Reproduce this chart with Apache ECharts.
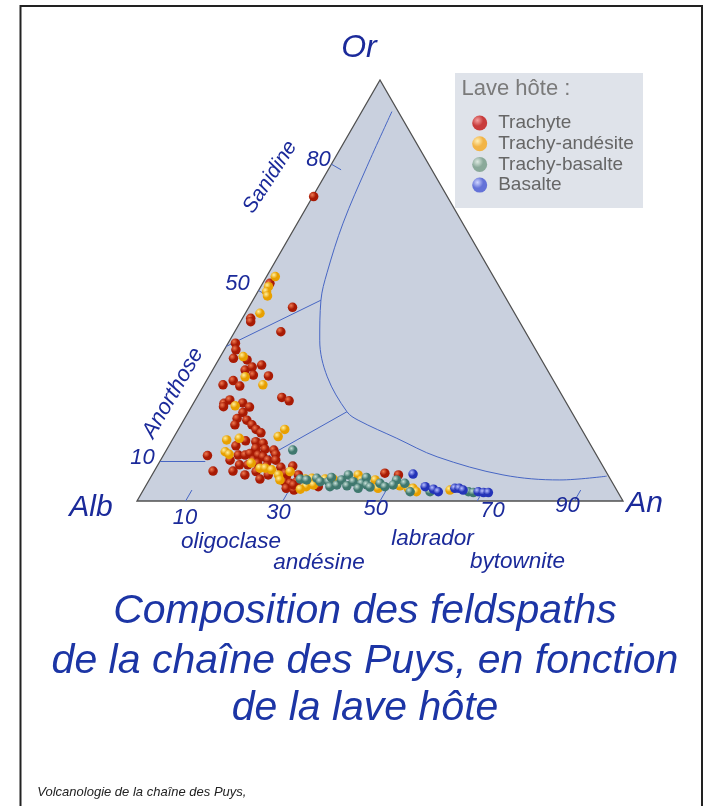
<!DOCTYPE html>
<html>
<head>
<meta charset="utf-8">
<script src="https://cdn.jsdelivr.net/npm/echarts/dist/echarts.min.js"></script>
<style>
html,body{margin:0;padding:0;background:#ffffff;}
#chart{width:712px;height:806px;}
</style>
</head>
<body>
<div id="chart"></div>
<script>
// Ternary compositions: [An %, Or %]  (Ab % = 100 - An - Or)
const trachyte = [
  [0.2,72.3],
  [1.5,51.7],[9.0,46.0],[1.7,43.4],[2.1,42.6],[9.5,40.2],[1.5,37.5],[2.4,35.9],[2.9,33.9],[5.9,33.5],
  [9.5,32.3],[6.7,31.1],[7.8,31.8],[9.0,29.9],[12.2,29.7],[5.5,28.6],[3.9,27.6],[7.5,27.3],
  [17.5,24.6],[19.4,23.8],[6.3,23.2],[7.1,24.0],[6.6,22.4],[10.1,23.3],[12.0,22.3],[10.8,19.6],
  [11.3,21.0],[13.0,19.2],[11.1,18.1],[14.6,18.1],[16.0,17.0],[17.4,16.2],
  [15.2,14.3],[17.4,14.1],[19.1,13.7],[13.8,13.1],[18.2,12.5],[20.2,12.3],[22.1,12.1],[23.0,11.1],
  [9.1,10.8],[15.4,10.9],[16.8,10.9],[17.6,11.3],[19.1,9.7],[19.5,10.9],[20.7,10.5],[22.1,9.7],
  [23.7,9.7],[14.3,9.7],[16.8,8.6],[18.5,8.6],[20.3,9.0],[22.5,8.3],[12.1,7.1],[16.2,7.1],
  [19.1,6.2],[21.0,7.0],[25.6,8.0],[27.9,8.3],[22.7,5.2],[23.9,6.2],[27.8,5.9],[30.1,6.2],
  [28.0,4.6],[29.4,4.2],[30.6,4.6],[29.2,3.0],[31.0,2.6],[30.3,3.8],[35.6,3.4],[27.2,6.6],
  [47.7,6.6],[50.7,6.2]
];
const trachyAndesite = [
  [1.8,53.3],[1.6,50.9],[1.8,49.7],[2.5,48.7],[3.0,44.6],[4.7,34.3],[7.5,29.5],[12.1,27.6],
  [8.9,22.6],[21.9,17.0],[21.4,15.3],[11.2,14.5],[13.6,14.9],[12.3,11.7],[13.4,11.1],[19.0,9.0],
  [21.4,7.8],[22.5,7.8],[24.0,7.4],[26.0,6.2],[28.0,7.0],[26.9,5.0],[32.0,5.2],[33.1,3.4],
  [32.2,2.8],[33.3,5.4],[34.4,3.8],[36.1,5.2],[37.8,5.2],[42.4,6.2],[43.7,5.0],[46.5,5.0],
  [48.1,3.0],[52.3,3.6],[54.3,3.0],[55.3,3.0],[56.4,2.2],[63.1,2.6]
];
const trachyBasalte = [
  [26.0,12.1],[31.0,5.2],[32.4,5.0],[34.3,5.4],[35.4,4.6],[37.1,4.6],[37.2,5.6],[38.0,3.4],
  [39.2,3.8],[39.6,5.0],[40.4,6.2],[41.4,3.6],[42.2,4.6],[44.1,4.2],[44.4,5.6],[45.4,3.8],
  [44.0,3.0],[46.3,3.3],[47.9,4.2],[49.3,3.4],[50.9,5.0],[50.8,3.8],[53.0,4.2],[55.1,2.2],
  [59.2,2.2],[67.1,2.2],[68.2,2.0]
];
const basalte = [
  [53.6,6.4],[57.6,3.4],[59.6,2.8],[60.9,2.2],[63.9,3.0],[64.8,3.0],[65.8,2.6],[69.1,2.2],
  [70.3,2.0],[71.3,2.0]
];
// Field boundaries [An %, Or %]
const solvus = [
  [6.2,92.5],[7.6,79.4],[9.4,66.0],[12.0,54.2],[14.0,47.7],[18.5,38.2],[24.4,29.5],
  [32.6,21.2],[35.9,19.2],[46.0,14.9],[56.5,10.5],[72.2,6.2],[84.5,5.0],[93.7,5.9]
];
const sanidineAnorthose = [[0,36.7],[14.0,47.7]];
const anorthosePlagioclase = [[0,9.5],[9.3,9.5]];
const plagioclaseSolvus = [[21.0,10.0],[32.6,21.2]];
// Tick values
const anTicks = [10,30,50,70,90];
const orTicks = [50,80];
const triangle = [[0,0],[100,0],[0,100]];
const seriesNames = ['Trachyte','Trachy-andésite','Trachy-basalte','Basalte'];

const H = Math.sqrt(3)/2;
function toXY(p){ return [p[0] + p[1]/2, p[1]*H]; }

function sphere(hi, lo){
  return {type:'radial', x:0.35, y:0.32, r:0.7,
    colorStops:[{offset:0,color:hi},{offset:0.55,color:lo},{offset:1,color:lo}]};
}
const dotColors = [
  sphere('#f07a50','#a81a04'),
  sphere('#fff0a0','#e8a000'),
  sphere('#c8e0d8','#3f786e'),
  sphere('#b8c0ff','#2433b8')
];
const legendColors = [
  sphere('#f4a0a0','#c83c3c'),
  sphere('#fff0b8','#f2b446'),
  sphere('#dde9e2','#8aa99a'),
  sphere('#d0d6ff','#6472d8')
];

const lineColor = '#4766c4';
const labelBlue = '#1b2a9a';
const FF = '"Liberation Sans", Arial, Helvetica, sans-serif';

const tickLines = [];
anTicks.forEach(a => tickLines.push({coords:[toXY([a,0]), toXY([a,2.6])]}));
orTicks.forEach(o => {
  const s = toXY([0,o]);
  tickLines.push({coords:[s, [s[0] + 2.3*H, s[1] - 2.3*0.5]]});
});
const boundaryLines = [sanidineAnorthose, anorthosePlagioclase, plagioclaseSolvus]
  .map(seg => ({coords: seg.map(toXY)}));

const scatterData = [trachyte, trachyAndesite, trachyBasalte, basalte];

function txt(text, x, y, size, opts){
  opts = opts || {};
  return {type:'text', x:x, y:y, rotation:opts.rot || 0, z:10,
    style:{text:text, font:(opts.italic===false?'':'italic ') + size + 'px ' + FF,
      fill:opts.color || labelBlue, textAlign:opts.align || 'center', textVerticalAlign:'middle'}};
}

const chart = echarts.init(document.getElementById('chart'));
const series = [
  {type:'custom', coordinateSystem:'cartesian2d', data:[[0,0]], clip:false, silent:true, z:1,
    renderItem:function(params, api){
      return {type:'polygon', shape:{points: triangle.map(p => api.coord(toXY(p)))},
        style:{fill:'#c9d0de', stroke:'#505050', lineWidth:1.3}};
    }},
  {type:'line', data: solvus.map(toXY), smooth:0.35, symbol:'none', silent:true, z:2,
    lineStyle:{color:lineColor, width:1}},
  {type:'lines', coordinateSystem:'cartesian2d', data: boundaryLines.concat(tickLines), silent:true, z:2,
    lineStyle:{color:lineColor, width:1, opacity:1}}
];
scatterData.forEach((d, i) => {
  series.push({type:'scatter', name:seriesNames[i], data:d.map(toXY), symbolSize:9.5, z:3,
    itemStyle:{color:dotColors[i], opacity:1}});
});

chart.setOption({
  animation:false,
  backgroundColor:'#ffffff',
  grid:{left:137, top:80, width:486, height:421},
  xAxis:{type:'value', min:0, max:100, show:false},
  yAxis:{type:'value', min:0, max:100*H, show:false},
  legend:{orient:'vertical', left:467.2, top:108.5, itemWidth:27, itemHeight:15, itemGap:1.7,
    icon:'circle', selectedMode:false, z:5,
    textStyle:{fontSize:19, lineHeight:19, color:'#666666', fontFamily:FF},
    data: seriesNames.map((n,i) => ({name:n, itemStyle:{color:legendColors[i]}}))},
  graphic:[
    {type:'rect', z:0, shape:{x:20.5, y:6, width:681.5, height:830}, style:{fill:'none', stroke:'#222', lineWidth:2}},
    {type:'rect', z:0, shape:{x:455, y:73, width:188, height:135}, style:{fill:'#dfe3ea'}},
    txt('Lave hôte :', 461.5, 89, 22, {italic:false, color:'#7a7a7a', align:'left'}),
    txt('Or', 359, 48, 32),
    txt('Alb', 91, 507.5, 30),
    txt('An', 644.5, 503.5, 30),
    txt('Sanidine', 270, 177, 21, {rot:57*Math.PI/180}),
    txt('Anorthose', 173, 393, 22, {rot:60*Math.PI/180}),
    txt('80', 318.5, 160, 22),
    txt('50', 237.5, 284, 22),
    txt('10', 142.5, 457.5, 22),
    txt('10', 185, 517.5, 22),
    txt('30', 278.5, 512.5, 22),
    txt('50', 375.8, 509, 22),
    txt('70', 492.5, 510.5, 22),
    txt('90', 567.5, 506, 22),
    txt('oligoclase', 231, 541.5, 22.5),
    txt('andésine', 319, 563, 22.5),
    txt('labrador', 432.5, 539, 22.5),
    txt('bytownite', 517.5, 561.5, 22.5),
    txt('Composition des feldspaths', 365, 611.5, 41, {color:'#1c35a5'}),
    txt('de la chaîne des Puys, en fonction', 365, 661.5, 41, {color:'#1c35a5'}),
    txt('de la lave hôte', 365, 708.5, 41, {color:'#1c35a5'}),
    txt('Volcanologie de la chaîne des Puys,', 37.3, 792, 13, {color:'#222222', align:'left'})
  ],
  series: series
});
</script>
</body>
</html>
